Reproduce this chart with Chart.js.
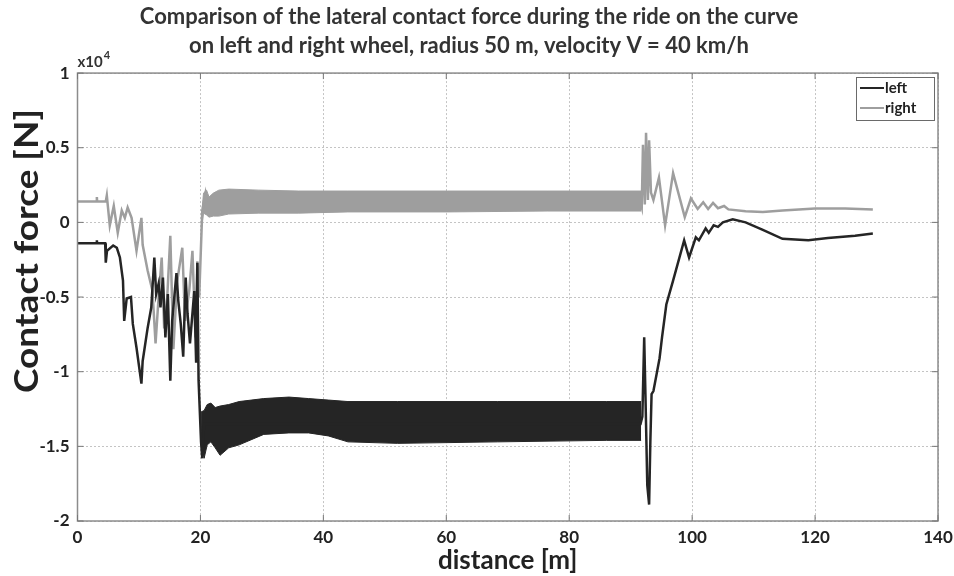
<!DOCTYPE html>
<html>
<head>
<meta charset="utf-8">
<script src="https://cdn.jsdelivr.net/npm/chart.js@4.4.1/dist/chart.umd.min.js"></script>
<style>
  html, body { margin: 0; padding: 0; background: #fff; }
  #wrap { width: 954px; height: 576px; }
</style>
</head>
<body>
<div id="wrap"><canvas id="forceChart" width="954" height="576"></canvas></div>
<script>
// distance [m] / force [x10^4 N]

// left wheel (black) - trace outside the dense oscillation band
const leftX = [0, 3.1, 3.15, 3.2, 4.5, 4.6, 4.8, 5.8, 6.4, 6.9, 7.4, 7.6, 8.0, 8.7, 9.0, 9.6, 10.4, 10.6, 11.4, 12.0,
    12.5, 12.8, 13.2, 13.5, 13.9, 14.3, 14.7, 15.1, 15.4, 16.1, 16.4, 16.8, 17.2, 17.6, 17.9, 18.3, 18.7, 19.0, 19.3, 19.5,
    19.7, 20.1, 20.3, 20.6, 91.6, 91.9, 92.2, 92.4, 92.7, 93.0, 93.2, 93.4, 93.7, 94.2, 94.7, 95.1, 95.8, 96.9, 98.7, 99.5,
    100.6, 101.1, 102.2, 102.7, 103.5, 104.2, 105.0, 106.6, 108.7, 111.5, 114.7, 118.9, 122.1, 126.5, 129.4];
const leftY = [-0.14, -0.14, -0.12, -0.14, -0.14, -0.27, -0.19, -0.155, -0.17, -0.235, -0.39, -0.66, -0.51, -0.50, -0.68, -0.84, -1.08, -0.93, -0.71, -0.57,
    -0.235, -0.48, -0.41, -0.57, -0.37, -0.77, -0.48, -1.06, -0.66, -0.34, -0.525, -0.68, -0.90, -0.37, -0.61, -0.81, -0.61, -0.46, -0.94, -0.27,
    -1.06, -1.47, -1.58, -1.35, -1.35, -1.30, -0.77, -1.15, -1.76, -1.89, -1.47, -1.15, -1.13, -1.02, -0.91, -0.77, -0.55, -0.39, -0.12, -0.235,
    -0.10, -0.12, -0.04, -0.07, -0.02, -0.03, 0.0, 0.02, 0.0, -0.05, -0.11, -0.12, -0.105, -0.09, -0.075];

// left wheel - envelope of the oscillation band
const leftBandX = [20.1, 20.6, 21.1, 21.7, 22.4, 23.2, 24.6, 26.3, 30.3, 34.4, 37.6, 40.8, 44.0, 52.1, 68.3, 86.1, 91.7];
const leftBandTop = [-1.27, -1.26, -1.22, -1.21, -1.24, -1.23, -1.22, -1.20, -1.18, -1.17, -1.18, -1.19, -1.20, -1.20, -1.20, -1.20, -1.20];
const leftBandBottom = [-1.46, -1.58, -1.49, -1.47, -1.51, -1.56, -1.51, -1.49, -1.42, -1.41, -1.41, -1.43, -1.47, -1.48, -1.47, -1.46, -1.46];

// right wheel (gray) - trace outside the band
const rightX = [0, 3.1, 3.15, 3.2, 4.6, 4.77, 5.25, 5.9, 6.55, 7.2, 7.7, 8.16, 8.8, 9.6, 10.4, 10.6, 11.4, 12.2, 12.7, 13.2,
    13.7, 14.1, 14.6, 15.1, 15.6, 16.2, 17.05, 17.5, 18.2, 18.7, 19.2, 19.5, 19.8, 20.3, 20.8, 21.0, 91.6, 91.8, 92.0, 92.3,
    92.5, 92.8, 93.0, 93.3, 93.7, 94.6, 95.6, 96.9, 98.8, 99.8, 100.9, 101.8, 102.6, 103.4, 104.2, 105.2, 105.9, 108.7, 111.5, 114.7,
    120.0, 124.9, 129.4];
const rightY = [0.14, 0.14, 0.17, 0.14, 0.14, 0.18, -0.02, 0.11, -0.07, 0.08, 0.03, 0.10, 0.03, -0.19, 0.03, -0.15, -0.32, -0.46, -0.81, -0.50,
    -0.235, -0.71, -0.50, -0.09, -0.85, -0.40, -0.17, -0.66, -0.45, -0.19, -0.77, -0.26, -0.50, 0.08, 0.19, 0.13, 0.13, 0.10, 0.52, 0.12,
    0.60, 0.15, 0.55, 0.20, 0.15, 0.30, -0.02, 0.33, 0.035, 0.16, 0.09, 0.135, 0.09, 0.13, 0.095, 0.11, 0.087, 0.075, 0.07, 0.08,
    0.093, 0.093, 0.087];

// right wheel - envelope of the oscillation band
const rightBandX = [20.3, 20.5, 21.0, 21.4, 22.1, 23.0, 24.6, 29.5, 36.0, 44.0, 60.2, 76.4, 91.7];
const rightBandTop = [0.10, 0.196, 0.216, 0.17, 0.196, 0.216, 0.223, 0.216, 0.21, 0.21, 0.21, 0.21, 0.21];
const rightBandBottom = [0.0, 0.062, 0.05, 0.035, 0.042, 0.042, 0.056, 0.062, 0.062, 0.07, 0.07, 0.076, 0.076];

const xTicks = [0, 20, 40, 60, 80, 100, 120, 140];
const yTicks = [1, 0.5, 0, -0.5, -1, -1.5, -2];
const yTickLabels = ['1', '0.5', '0', '-0.5', '-1', '-1.5', '-2'];

const BLACK = '#252525';
const GRAY = '#9e9e9e';
const FONT = 'Lato, "Open Sans", sans-serif';

function pts(xs, ys) {
    return xs.map((x, i) => ({ x: x, y: ys[i] }));
}

// frame with inner ticks, y title, exponent label and legend box (MATLAB style)
const matlabDecor = {
    id: 'matlabDecor',
    afterDraw(chart) {
        const { ctx, chartArea: a, scales } = chart;
        ctx.save();
        ctx.strokeStyle = '#8c8c8c';
        ctx.lineWidth = 1.5;
        ctx.strokeRect(a.left, a.top, a.right - a.left, a.bottom - a.top);

        // small inward ticks on all four sides
        ctx.lineWidth = 1;
        ctx.strokeStyle = '#777';
        ctx.beginPath();
        xTicks.forEach(v => {
            const px = scales.x.getPixelForValue(v);
            ctx.moveTo(px, a.bottom); ctx.lineTo(px, a.bottom - 6);
            ctx.moveTo(px, a.top); ctx.lineTo(px, a.top + 6);
        });
        yTicks.forEach(v => {
            const py = scales.y.getPixelForValue(v);
            ctx.moveTo(a.left, py); ctx.lineTo(a.left + 6, py);
            ctx.moveTo(a.right, py); ctx.lineTo(a.right - 6, py);
        });
        ctx.stroke();

        // y axis title (sits above the axis centre in the original)
        ctx.save();
        ctx.translate(27, 251);
        ctx.rotate(-Math.PI / 2);
        ctx.scale(1.12, 1);
        ctx.fillStyle = '#222';
        ctx.font = 'bold 33px ' + FONT;
        ctx.textAlign = 'center';
        ctx.textBaseline = 'middle';
        ctx.fillText('Contact force [N]', 0, 0);
        ctx.restore();

        // x10^4
        ctx.fillStyle = '#333';
        ctx.textBaseline = 'alphabetic';
        ctx.textAlign = 'left';
        ctx.font = 'bold 15px ' + FONT;
        ctx.fillText('x10', a.left, 67);
        const w = ctx.measureText('x10').width;
        ctx.font = 'bold 11px ' + FONT;
        ctx.fillText('4', a.left + w + 1, 59);

        // legend
        const bx = 856, by = 77, bw = 78, bh = 43;
        ctx.fillStyle = '#fff';
        ctx.fillRect(bx, by, bw, bh);
        ctx.strokeStyle = '#6a6a6a';
        ctx.lineWidth = 1;
        ctx.strokeRect(bx + 0.5, by + 0.5, bw, bh);
        const items = [
            { label: chart.data.datasets[0].label, color: BLACK, y: by + 11 },
            { label: chart.data.datasets[3].label, color: GRAY, y: by + 31 }
        ];
        ctx.font = 'bold 15px ' + FONT;
        ctx.textBaseline = 'middle';
        items.forEach(it => {
            ctx.strokeStyle = it.color;
            ctx.lineWidth = 2;
            ctx.beginPath();
            ctx.moveTo(bx + 4, it.y);
            ctx.lineTo(bx + 28, it.y);
            ctx.stroke();
            ctx.fillStyle = '#222';
            ctx.fillText(it.label, bx + 29, it.y);
        });
        ctx.restore();
    }
};

const lineStyle = (color, width) => ({
    borderColor: color,
    backgroundColor: color,
    borderWidth: width,
    pointRadius: 0,
    tension: 0,
    fill: false
});

new Chart(document.getElementById('forceChart'), {
    type: 'line',
    data: {
        datasets: [
            { label: 'left', data: pts(leftX, leftY), ...lineStyle(BLACK, 2.5) },
            { label: 'left band top', data: pts(leftBandX, leftBandTop), ...lineStyle(BLACK, 1) },
            { label: 'left band bottom', data: pts(leftBandX, leftBandBottom), ...lineStyle(BLACK, 1), fill: '-1' },
            { label: 'right', data: pts(rightX, rightY), ...lineStyle(GRAY, 2.5) },
            { label: 'right band top', data: pts(rightBandX, rightBandTop), ...lineStyle(GRAY, 1) },
            { label: 'right band bottom', data: pts(rightBandX, rightBandBottom), ...lineStyle(GRAY, 1), fill: '-1' }
        ]
    },
    options: {
        responsive: false,
        animation: false,
        layout: { padding: { left: 0, right: 16, top: 0, bottom: 0 } },
        plugins: {
            legend: { display: false },
            tooltip: { enabled: false },
            title: {
                display: true,
                text: ['Comparison of the lateral contact force during the ride on the curve',
                       'on left and right wheel, radius 50 m, velocity V = 40 km/h'],
                color: '#333',
                font: { family: FONT, size: 22, weight: 'bold', lineHeight: 1.32 },
                padding: { top: 2.5, bottom: 12.5 }
            }
        },
        scales: {
            x: {
                type: 'linear',
                min: 0,
                max: 140,
                afterBuildTicks: s => { s.ticks = xTicks.map(v => ({ value: v })); },
                afterFit: s => { s.height = 55; s.paddingLeft = 0; s.paddingRight = 0; },
                grid: { color: '#c4c4c4', drawTicks: false },
                border: { display: false, dash: [2, 2] },
                ticks: {
                    color: '#222',
                    padding: 6,
                    maxRotation: 0,
                    font: { family: FONT, size: 17, weight: 'bold' }
                },
                title: {
                    display: true,
                    text: 'distance [m]',
                    color: '#222',
                    padding: 0,
                    font: { family: FONT, size: 26, weight: 'bold', lineHeight: 1.2 }
                }
            },
            y: {
                min: -2,
                max: 1,
                afterBuildTicks: s => { s.ticks = yTicks.map(v => ({ value: v })); },
                afterFit: s => { s.width = 77.5; s.paddingTop = 0; s.paddingBottom = 0; },
                grid: { color: '#c4c4c4', drawTicks: false },
                border: { display: false, dash: [2, 2] },
                ticks: {
                    color: '#222',
                    padding: 8,
                    font: { family: FONT, size: 17, weight: 'bold' },
                    callback: (v, i) => yTickLabels[i]
                },
                title: { display: false }
            }
        }
    },
    plugins: [matlabDecor]
});
</script>
</body>
</html>
